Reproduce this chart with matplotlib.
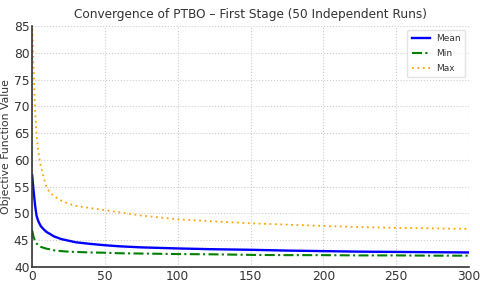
import numpy as np
import matplotlib
matplotlib.use("Agg")
import matplotlib.pyplot as plt

# valori (iterazione -> valore obiettivo)
iters = [0, 1, 2, 3, 4, 5, 6, 8, 10, 12, 15, 20, 25, 30, 40, 50, 60, 75, 100,
         125, 150, 175, 200, 225, 250, 275, 300]
mean_vals = [57.1, 54.2, 51.5, 49.6, 48.7, 48.1, 47.6, 47.0, 46.5, 46.2, 45.7,
             45.2, 44.9, 44.6, 44.3, 44.05, 43.85, 43.65, 43.45, 43.3, 43.2,
             43.05, 42.95, 42.85, 42.8, 42.75, 42.7]
min_vals = [46.8, 45.6, 44.8, 44.4, 44.1, 43.9, 43.75, 43.55, 43.4, 43.3, 43.1,
            42.95, 42.85, 42.8, 42.7, 42.65, 42.55, 42.5, 42.4, 42.35, 42.25,
            42.2, 42.2, 42.15, 42.15, 42.1, 42.1]
max_vals = [85.5, 76.5, 69.5, 64.8, 62.0, 60.2, 58.8, 56.6, 54.8, 54.0, 53.2,
            52.4, 51.8, 51.4, 51.0, 50.6, 50.2, 49.6, 48.9, 48.5, 48.15,
            47.9, 47.65, 47.45, 47.3, 47.2, 47.1]

fig = plt.figure(figsize=(4.8, 2.87), dpi=100)
ax = fig.add_axes([0.067, 0.07, 0.91, 0.839])

ax.plot(iters, mean_vals, color='#0000ff', lw=1.7, label='Mean')
ax.plot(iters, min_vals, color='green', lw=1.5, ls=(0, (4.8, 1.6, 1, 1.6)), label='Min')
ax.plot(iters, max_vals, color='orange', lw=1.3, ls=(0, (1, 2)), label='Max')

ax.set_xlim(0, 300)
ax.set_ylim(40, 85)
ax.set_xticks([0, 50, 100, 150, 200, 250, 300])
ax.set_yticks(np.arange(40, 86, 5))
ax.set_title('Convergence of PTBO – First Stage (50 Independent Runs)',
             fontsize=8.7, color='#333333', pad=6)
ax.set_ylabel('Objective Function Value', fontsize=7.8, color='#333333', labelpad=2)
ax.tick_params(labelsize=8.8, colors='#333333', length=0, pad=2)
ax.grid(True, ls=':', color='#cccccc', lw=0.8)
for s in ['top', 'right']:
    ax.spines[s].set_visible(False)
for s in ['left', 'bottom']:
    ax.spines[s].set_color('#333333')
    ax.spines[s].set_linewidth(1.2)

leg = ax.legend(loc='upper right', fontsize=6.5, frameon=True, handlelength=2.0,
                borderpad=0.5, labelspacing=0.65, handletextpad=0.7,
                borderaxespad=0.4)
leg.get_frame().set_edgecolor('#dddddd')
for t in leg.get_texts():
    t.set_color('#333333')

fig.savefig('out.png', dpi=100)
